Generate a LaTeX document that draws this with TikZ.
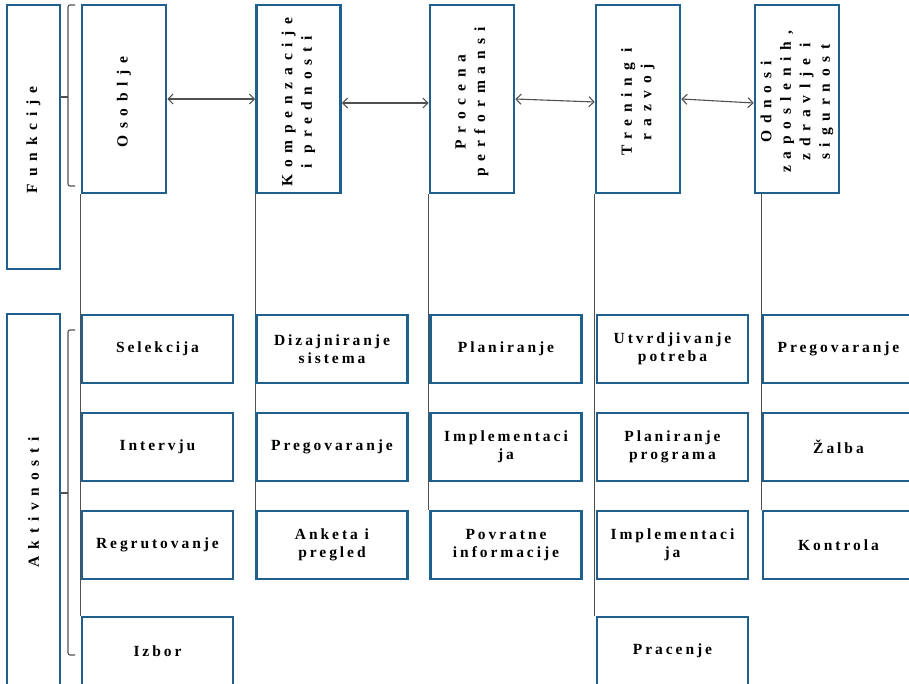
\documentclass[tikz,border=0pt]{standalone}
\usepackage{fontspec}
\setmainfont{Liberation Serif}
\newfontfamily\widefont[LetterSpace=44]{Liberation Serif Bold}
\newfontfamily\boxfont[LetterSpace=19]{Liberation Serif Bold}
\usetikzlibrary{arrows.meta,backgrounds}
\definecolor{boxblue}{RGB}{31,96,143}
\definecolor{linegray}{RGB}{80,80,80}
\tikzset{
  frame/.style={draw=boxblue, line width=2.6pt, fill=white, inner sep=0pt},
  topbox/.style={frame, minimum width=84pt, minimum height=188pt},
  actbox/.style={frame, minimum width=151pt, minimum height=68pt, align=center,
    font=\boxfont\fontsize{15.5}{18.5}\selectfont},
  vtext/.style={rotate=90, align=center, font=\widefont\fontsize{15.5}{19.5}\selectfont},
  link/.style={draw=linegray, line width=1.1pt},
  dbl/.style={link, {Straight Barb[length=5pt,width=10pt]}-{Straight Barb[length=5pt,width=10pt]}},
  brace/.style={link, rounded corners=2pt}
}
\begin{document}
\begin{tikzpicture}[x=1pt, y=-1pt]
\useasboundingbox (0,0) rectangle (909,684);
\clip (0,0) rectangle (909,684);

\node[frame, minimum width=53pt, minimum height=264pt] (funkcije) at (33.5,137) {};
\node[vtext] at (33.5,140) {Funkcije};
\node[frame, minimum width=53pt, minimum height=412pt] (aktivnosti) at (33.5,520) {};
\node[vtext] at (33.5,502) {Aktivnosti};

\foreach \n/\x/\t in {osoblje/124/Osoblje, kompenz/298.5/{Kompenzacije\\ i prednosti},
    procena/472/{Procena\\ performansi}, trening/638/{Trening i\\ razvoj},
    odnosi/797/{Odnosi\\ zaposlenih,\\ zdravlje i\\ sigurnost}}
{
  \node[topbox] (\n) at (\x,99) {};
  \node[vtext] at (\x,102) {\t};
}

\foreach \t/\y [count=\i] in {Selekcija/349, Intervju/447, Regrutovanje/545, Izbor/651}
  \node[actbox] (o\i) at (157.5,\y) {\t};
\foreach \t/\y [count=\i] in {{Dizajniranje\\ sistema}/349, Pregovaranje/447, {Anketa i\\ pregled}/545}
  \node[actbox] (k\i) at (332,\y) {\t};
\foreach \t/\y [count=\i] in {Planiranje/349, {Implementaci\\ ja}/447, {Povratne\\ informacije}/545}
  \node[actbox] (p\i) at (506,\y) {\t};
\foreach \t/\y [count=\i] in {{Utvrdjivanje\\ potreba}/349, {Planiranje\\ programa}/447, {Implementaci\\ ja}/545, Pracenje/651}
  \node[actbox] (t\i) at (672.5,\y) {\t};
\foreach \t/\y [count=\i] in {Pregovaranje/349, Žalba/447, Kontrola/545}
  \node[actbox] (z\i) at (838.5,\y) {\t};

\begin{scope}[on background layer]
\draw[link] (osoblje.south west) -- (osoblje.south west |- o4.north);
\draw[link] (kompenz.south west) -- (kompenz.south west |- k3.north);
\draw[link] (procena.south west) -- (procena.south west |- p3.north);
\draw[link] (trening.south west) -- (trening.south west |- t4.north);
\draw[link] (z3.north west) -- (z3.north west |- odnosi.south);
\end{scope}

\draw[dbl] (osoblje.east) -- (kompenz.west);
\draw[dbl] ([yshift=-4pt]kompenz.east) -- ([yshift=-4pt]procena.west);
\draw[dbl] (procena.east) -- ([yshift=-3pt]trening.west);
\draw[dbl] (trening.east) -- ([yshift=-4pt]odnosi.west);

\draw[brace] (75,5) -- (68,5) -- (68,186) -- (75,186);
\draw[link] (68,97) -- (68,97 -| funkcije.east);
\draw[brace] (75,330) -- (68,330) -- (68,655) -- (75,655);
\draw[link] (68,493) -- (68,493 -| aktivnosti.east);
\end{tikzpicture}
\end{document}
